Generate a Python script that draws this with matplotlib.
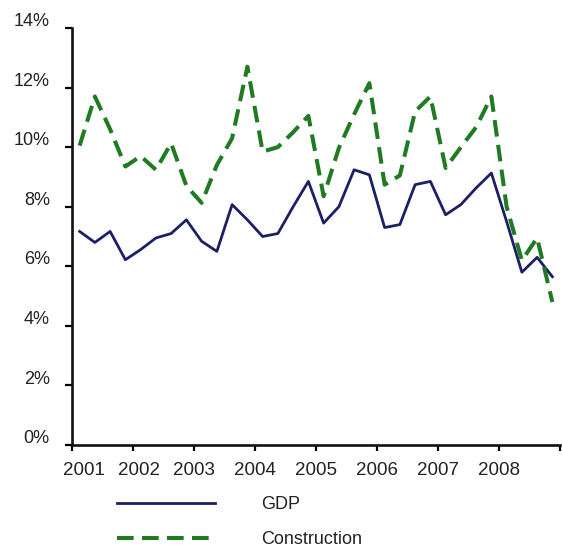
import numpy as np
import matplotlib
matplotlib.use("Agg")
import matplotlib.pyplot as plt
from matplotlib.transforms import ScaledTranslation
from matplotlib.ticker import FuncFormatter

years = ["2001", "2002", "2003", "2004", "2005", "2006", "2007", "2008"]
gdp = [7.17, 6.80, 7.17, 6.22, 6.56, 6.95, 7.10, 7.56,
       6.84, 6.50, 8.07, 7.56, 7.00, 7.10, 8.00, 8.85,
       7.45, 8.00, 9.24, 9.07, 7.30, 7.40, 8.74, 8.85,
       7.73, 8.07, 8.63, 9.13, 7.50, 5.80, 6.30, 5.65]
construction = [10.05, 11.70, 10.60, 9.35, 9.70, 9.24, 10.13, 8.70,
                8.13, 9.40, 10.30, 12.70, 9.85, 10.00, 10.50, 11.05,
                8.35, 9.97, 11.10, 12.15, 8.74, 9.05, 11.20, 11.70,
                9.30, 10.00, 10.67, 11.70, 8.00, 6.20, 6.95, 4.80]
yticks = [0, 2, 4, 6, 8, 10, 12, 14]

plt.rcParams['font.family'] = ['Liberation Sans', 'DejaVu Sans']
plt.rcParams['lines.scale_dashes'] = False

fig = plt.figure(figsize=(5.62, 5.5), dpi=100)
ax = fig.add_axes([72/562, 105/550, (560-72)/562, (445-28)/550])

q = np.arange(len(gdp))
xq = (q + 0.5) / 4.0

ax.plot(xq, gdp, color='#1c1f66', lw=2.0, label='GDP')
ax.plot(xq, construction, color='#1f7a22', lw=2.9, dashes=(12, 6), label='Construction')

ax.set_xlim(0, 8)
ax.set_ylim(0, 14)
ax.set_yticks(yticks)
ax.yaxis.set_major_formatter(FuncFormatter(lambda v, p: f"{int(v)}%"))
ax.set_xticks(np.arange(9))
ax.set_xticklabels(years + [""])

for s in ['top', 'right']:
    ax.spines[s].set_visible(False)
for s in ['left', 'bottom']:
    ax.spines[s].set_linewidth(1.9)
    ax.spines[s].set_color('#111111')

ax.tick_params(axis='y', direction='out', length=5, width=1.6, pad=11,
               labelsize=13, labelcolor='#222222')
ax.tick_params(axis='x', direction='out', length=4, width=1.6, pad=8,
               labelsize=13.5, labelcolor='#222222')

for lab in ax.get_yticklabels():
    lab.set_transform(lab.get_transform() + ScaledTranslation(0, 6/72, fig.dpi_scale_trans))
xl = ax.get_xticklabels()
xl[0].set_transform(xl[0].get_transform() + ScaledTranslation(12/100, 0, fig.dpi_scale_trans))
xl[1].set_transform(xl[1].get_transform() + ScaledTranslation(6/100, 0, fig.dpi_scale_trans))

h, l = ax.get_legend_handles_labels()
leg = fig.legend(h, l, loc='upper left', bbox_to_anchor=(108/562, 1 - 487/550),
                 frameon=False, fontsize=13, handlelength=5.4, handletextpad=2.6,
                 labelspacing=1.0, borderpad=0, labelcolor='#222222')

fig.savefig('out.png', dpi=100)
